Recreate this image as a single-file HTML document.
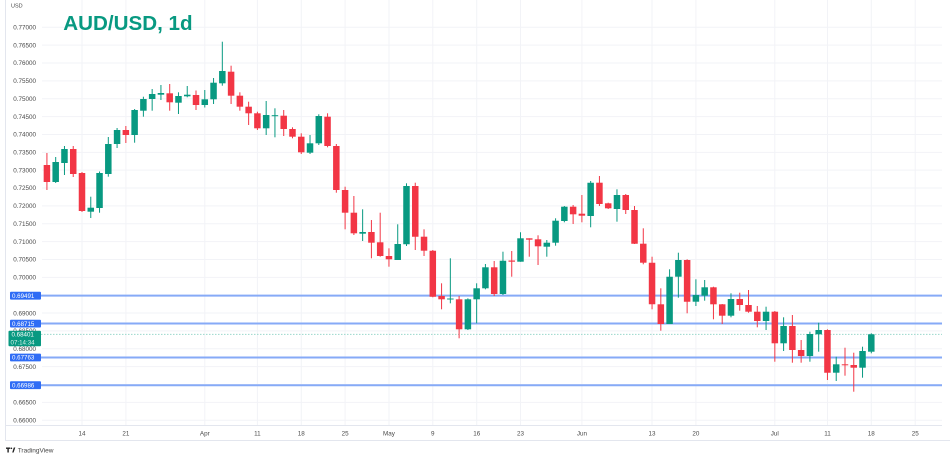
<!DOCTYPE html>
<html>
<head>
<meta charset="utf-8">
<style>
html,body{margin:0;padding:0;background:#fff;}
svg{display:block;}
.g{color:#089981;}
.r{color:#f23645;}
.b{fill:currentColor;stroke:none;}
.w{fill:none;stroke:currentColor;stroke-width:1;}
.pl{font-family:"Liberation Sans",sans-serif;font-size:6.3px;fill:#4a4a4a;}
.dl{font-family:"Liberation Sans",sans-serif;font-size:6.3px;fill:#4a4a4a;text-anchor:middle;}
.bl{font-family:"Liberation Sans",sans-serif;font-size:6.2px;fill:#fff;}
</style>
</head>
<body>
<svg width="950" height="459" viewBox="0 0 950 459" xmlns="http://www.w3.org/2000/svg">
<rect width="950" height="459" fill="#fff"/>
<!-- frame -->
<g stroke="#e3e6ee" stroke-width="1" fill="none">
<path d="M5.5 0V440.5H950"/>
<path d="M5.5 425.5H942"/>
</g>
<!-- horizontal grid -->
<g stroke="#f2f3f7" stroke-width="1">
<path d="M42 27.3H942M42 45.16H942M42 63.02H942M42 80.88H942M42 98.74H942M42 116.6H942M42 134.46H942M42 152.32H942M42 170.18H942M42 188.04H942M42 205.9H942M42 223.76H942M42 241.62H942M42 259.48H942M42 277.34H942M42 295.2H942M42 313.06H942M42 330.92H942M42 348.78H942M42 366.64H942M42 384.5H942M42 402.36H942M42 420.22H942"/>
</g>
<!-- vertical grid -->
<g stroke="#f2f3f7" stroke-width="1">
<path d="M82 0V425M125.9 0V425M204.8 0V425M257.4 0V425M301.3 0V425M345.1 0V425M389 0V425M432.8 0V425M476.7 0V425M520.5 0V425M581.9 0V425M652 0V425M695.9 0V425M774.8 0V425M827.5 0V425M871.3 0V425M915.2 0V425"/>
</g>
<!-- price labels -->
<text class="pl" x="11" y="7.3" style="font-size:5.5px">USD</text>
<g class="pl">
<text x="13.3" y="29.5">0.77000</text>
<text x="13.3" y="47.4">0.76500</text>
<text x="13.3" y="65.2">0.76000</text>
<text x="13.3" y="83.1">0.75500</text>
<text x="13.3" y="100.9">0.75000</text>
<text x="13.3" y="118.8">0.74500</text>
<text x="13.3" y="136.7">0.74000</text>
<text x="13.3" y="154.5">0.73500</text>
<text x="13.3" y="172.4">0.73000</text>
<text x="13.3" y="190.2">0.72500</text>
<text x="13.3" y="208.1">0.72000</text>
<text x="13.3" y="226">0.71500</text>
<text x="13.3" y="243.8">0.71000</text>
<text x="13.3" y="261.7">0.70500</text>
<text x="13.3" y="279.5">0.70000</text>
<text x="13.3" y="297.4">0.69500</text>
<text x="13.3" y="315.3">0.69000</text>
<text x="13.3" y="333.1">0.68500</text>
<text x="13.3" y="351">0.68000</text>
<text x="13.3" y="368.8">0.67500</text>
<text x="13.3" y="386.7">0.67000</text>
<text x="13.3" y="404.6">0.66500</text>
<text x="13.3" y="422.4">0.66000</text>
</g>
<!-- date labels -->
<g class="dl">
<text x="82" y="435.6">14</text>
<text x="125.9" y="435.6">21</text>
<text x="204.8" y="435.6">Apr</text>
<text x="257.4" y="435.6">11</text>
<text x="301.3" y="435.6">18</text>
<text x="345.1" y="435.6">25</text>
<text x="389" y="435.6">May</text>
<text x="432.8" y="435.6">9</text>
<text x="476.7" y="435.6">16</text>
<text x="520.5" y="435.6">23</text>
<text x="581.9" y="435.6">Jun</text>
<text x="652" y="435.6">13</text>
<text x="695.9" y="435.6">20</text>
<text x="774.8" y="435.6">Jul</text>
<text x="827.5" y="435.6">11</text>
<text x="871.3" y="435.6">18</text>
<text x="915.2" y="435.6">25</text>
</g>
<!-- horizontal lines -->
<g stroke="#86aaf7" stroke-width="2">
<path d="M41 295.6H942"/>
<path d="M41 323.5H942"/>
<path d="M41 357.5H942"/>
<path d="M41 385.2H942"/>
</g>
<path d="M41 334.4H942" stroke="#9ad8cc" stroke-width="1" stroke-dasharray="1.5 1.5"/>
<!-- candles -->
<g class="r" transform="translate(46.92)"><path class="w" d="M0 153V190"/><path class="b" d="M-3.25 165h6.5V182h-6.5Z"/></g>
<g class="g" transform="translate(55.69)"><path class="w" d="M0 157V183"/><path class="b" d="M-3.25 162h6.5V182h-6.5Z"/></g>
<g class="g" transform="translate(64.46)"><path class="w" d="M0 146V175"/><path class="b" d="M-3.25 149h6.5V163h-6.5Z"/></g>
<g class="r" transform="translate(73.23)"><path class="w" d="M0 146V177"/><path class="b" d="M-3.25 149h6.5V174h-6.5Z"/></g>
<g class="r" transform="translate(82)"><path class="w" d="M0 172V212"/><path class="b" d="M-3.25 173h6.5V211h-6.5Z"/></g>
<g class="g" transform="translate(90.77)"><path class="w" d="M0 196.7V218"/><path class="b" d="M-3.25 207.7h6.5V211.7h-6.5Z"/></g>
<g class="g" transform="translate(99.54)"><path class="w" d="M0 171.5V212.7"/><path class="b" d="M-3.25 173h6.5V208h-6.5Z"/></g>
<g class="g" transform="translate(108.31)"><path class="w" d="M0 137V176.7"/><path class="b" d="M-3.25 144h6.5V174h-6.5Z"/></g>
<g class="g" transform="translate(117.08)"><path class="w" d="M0 128V148"/><path class="b" d="M-3.25 130h6.5V144h-6.5Z"/></g>
<g class="r" transform="translate(125.85)"><path class="w" d="M0 126V143"/><path class="b" d="M-3.25 130h6.5V135h-6.5Z"/></g>
<g class="g" transform="translate(134.62)"><path class="w" d="M0 109V142.7"/><path class="b" d="M-3.25 110h6.5V135h-6.5Z"/></g>
<g class="g" transform="translate(143.39)"><path class="w" d="M0 96.7V116.7"/><path class="b" d="M-3.25 99h6.5V110.7h-6.5Z"/></g>
<g class="g" transform="translate(152.16)"><path class="w" d="M0 89V110.7"/><path class="b" d="M-3.25 94h6.5V99h-6.5Z"/></g>
<g class="g" transform="translate(160.93)"><path class="w" d="M0 85V100"/><path class="b" d="M-3.25 93h6.5V94.7h-6.5Z"/></g>
<g class="r" transform="translate(169.7)"><path class="w" d="M0 84V110.7"/><path class="b" d="M-3.25 93.3h6.5V102.3h-6.5Z"/></g>
<g class="g" transform="translate(178.47)"><path class="w" d="M0 92.3V114"/><path class="b" d="M-3.25 96h6.5V102.7h-6.5Z"/></g>
<g class="g" transform="translate(187.24)"><path class="w" d="M0 86V97.3"/><path class="b" d="M-3.25 94.7h6.5V96.3h-6.5Z"/></g>
<g class="r" transform="translate(196.01)"><path class="w" d="M0 90.5V110"/><path class="b" d="M-3.25 95h6.5V105h-6.5Z"/></g>
<g class="g" transform="translate(204.78)"><path class="w" d="M0 90V107.5"/><path class="b" d="M-3.25 99.3h6.5V105h-6.5Z"/></g>
<g class="g" transform="translate(213.55)"><path class="w" d="M0 78V104"/><path class="b" d="M-3.25 82.7h6.5V99.3h-6.5Z"/></g>
<g class="g" transform="translate(222.32)"><path class="w" d="M0 41.7V85.7"/><path class="b" d="M-3.25 71h6.5V83.3h-6.5Z"/></g>
<g class="r" transform="translate(231.09)"><path class="w" d="M0 65.7V104"/><path class="b" d="M-3.25 71.7h6.5V95.7h-6.5Z"/></g>
<g class="r" transform="translate(239.86)"><path class="w" d="M0 92.3V110.7"/><path class="b" d="M-3.25 95.7h6.5V106.7h-6.5Z"/></g>
<g class="r" transform="translate(248.63)"><path class="w" d="M0 101.7V125"/><path class="b" d="M-3.25 106.7h6.5V113.3h-6.5Z"/></g>
<g class="r" transform="translate(257.4)"><path class="w" d="M0 111.7V130"/><path class="b" d="M-3.25 113.3h6.5V128.3h-6.5Z"/></g>
<g class="g" transform="translate(266.17)"><path class="w" d="M0 101V135"/><path class="b" d="M-3.25 115h6.5V128.3h-6.5Z"/></g>
<g class="g" transform="translate(274.94)"><path class="w" d="M0 108.3V137.3"/><path class="b" d="M-3.25 115.2h6.5V116.2h-6.5Z"/></g>
<g class="r" transform="translate(283.71)"><path class="w" d="M0 110V136"/><path class="b" d="M-3.25 115.7h6.5V129h-6.5Z"/></g>
<g class="r" transform="translate(292.48)"><path class="w" d="M0 127.3V138.3"/><path class="b" d="M-3.25 129h6.5V136.7h-6.5Z"/></g>
<g class="r" transform="translate(301.25)"><path class="w" d="M0 133.3V154"/><path class="b" d="M-3.25 136.7h6.5V152.3h-6.5Z"/></g>
<g class="g" transform="translate(310.02)"><path class="w" d="M0 135V154"/><path class="b" d="M-3.25 143.3h6.5V152.7h-6.5Z"/></g>
<g class="g" transform="translate(318.79)"><path class="w" d="M0 114.3V145"/><path class="b" d="M-3.25 116h6.5V143.3h-6.5Z"/></g>
<g class="r" transform="translate(327.56)"><path class="w" d="M0 113.3V147.3"/><path class="b" d="M-3.25 116.7h6.5V146h-6.5Z"/></g>
<g class="r" transform="translate(336.33)"><path class="w" d="M0 144V192.7"/><path class="b" d="M-3.25 146h6.5V190h-6.5Z"/></g>
<g class="r" transform="translate(345.1)"><path class="w" d="M0 186.7V229.3"/><path class="b" d="M-3.25 190h6.5V212.7h-6.5Z"/></g>
<g class="r" transform="translate(353.87)"><path class="w" d="M0 196V235"/><path class="b" d="M-3.25 212.7h6.5V233.3h-6.5Z"/></g>
<g class="g" transform="translate(362.64)"><path class="w" d="M0 209.3V241"/><path class="b" d="M-3.25 232h6.5V233.7h-6.5Z"/></g>
<g class="r" transform="translate(371.41)"><path class="w" d="M0 220V258.3"/><path class="b" d="M-3.25 232h6.5V242.7h-6.5Z"/></g>
<g class="r" transform="translate(380.18)"><path class="w" d="M0 212.7V256.7"/><path class="b" d="M-3.25 242.3h6.5V256h-6.5Z"/></g>
<g class="r" transform="translate(388.95)"><path class="w" d="M0 248.3V266.7"/><path class="b" d="M-3.25 256h6.5V259.3h-6.5Z"/></g>
<g class="g" transform="translate(397.72)"><path class="w" d="M0 224.3V260"/><path class="b" d="M-3.25 244h6.5V260h-6.5Z"/></g>
<g class="g" transform="translate(406.49)"><path class="w" d="M0 183.3V246"/><path class="b" d="M-3.25 186h6.5V244.3h-6.5Z"/></g>
<g class="r" transform="translate(415.26)"><path class="w" d="M0 182.7V250"/><path class="b" d="M-3.25 186h6.5V236.7h-6.5Z"/></g>
<g class="r" transform="translate(424.03)"><path class="w" d="M0 229.3V256"/><path class="b" d="M-3.25 236.7h6.5V250.7h-6.5Z"/></g>
<g class="r" transform="translate(432.8)"><path class="w" d="M0 250V297.3"/><path class="b" d="M-3.25 250.7h6.5V296.7h-6.5Z"/></g>
<g class="r" transform="translate(441.57)"><path class="w" d="M0 283.3V309.3"/><path class="b" d="M-3.25 296h6.5V299.3h-6.5Z"/></g>
<g class="g" transform="translate(450.34)"><path class="w" d="M0 258.3V303.3"/><path class="b" d="M-3.25 298.5h6.5V299.5h-6.5Z"/></g>
<g class="r" transform="translate(459.11)"><path class="w" d="M0 296V338.3"/><path class="b" d="M-3.25 299.3h6.5V329.3h-6.5Z"/></g>
<g class="g" transform="translate(467.88)"><path class="w" d="M0 298.3V330"/><path class="b" d="M-3.25 299.3h6.5V329.3h-6.5Z"/></g>
<g class="g" transform="translate(476.65)"><path class="w" d="M0 283.3V323.3"/><path class="b" d="M-3.25 288.3h6.5V299.3h-6.5Z"/></g>
<g class="g" transform="translate(485.42)"><path class="w" d="M0 264V289.3"/><path class="b" d="M-3.25 267.3h6.5V288.3h-6.5Z"/></g>
<g class="r" transform="translate(494.19)"><path class="w" d="M0 261V296"/><path class="b" d="M-3.25 267.3h6.5V294h-6.5Z"/></g>
<g class="g" transform="translate(502.96)"><path class="w" d="M0 251.7V295"/><path class="b" d="M-3.25 260.7h6.5V294h-6.5Z"/></g>
<g class="r" transform="translate(511.73)"><path class="w" d="M0 251V276.7"/><path class="b" d="M-3.25 260.5h6.5V261.7h-6.5Z"/></g>
<g class="g" transform="translate(520.5)"><path class="w" d="M0 232.3V261.7"/><path class="b" d="M-3.25 238.3h6.5V261.7h-6.5Z"/></g>
<g class="r" transform="translate(529.27)"><path class="w" d="M0 238.3V256.7"/><path class="b" d="M-3.25 238.3h6.5V239.7h-6.5Z"/></g>
<g class="r" transform="translate(538.04)"><path class="w" d="M0 235.3V265"/><path class="b" d="M-3.25 239.3h6.5V246.3h-6.5Z"/></g>
<g class="g" transform="translate(546.81)"><path class="w" d="M0 240V256.7"/><path class="b" d="M-3.25 242.7h6.5V246.7h-6.5Z"/></g>
<g class="g" transform="translate(555.58)"><path class="w" d="M0 218.3V245.7"/><path class="b" d="M-3.25 220.7h6.5V242.7h-6.5Z"/></g>
<g class="g" transform="translate(564.35)"><path class="w" d="M0 206V222.3"/><path class="b" d="M-3.25 206.7h6.5V221h-6.5Z"/></g>
<g class="r" transform="translate(573.12)"><path class="w" d="M0 205V224"/><path class="b" d="M-3.25 206.7h6.5V214.3h-6.5Z"/></g>
<g class="r" transform="translate(581.89)"><path class="w" d="M0 195V222.3"/><path class="b" d="M-3.25 213.7h6.5V215.7h-6.5Z"/></g>
<g class="g" transform="translate(590.66)"><path class="w" d="M0 181V227.3"/><path class="b" d="M-3.25 182.7h6.5V216h-6.5Z"/></g>
<g class="r" transform="translate(599.43)"><path class="w" d="M0 176V206"/><path class="b" d="M-3.25 182.7h6.5V204h-6.5Z"/></g>
<g class="r" transform="translate(608.2)"><path class="w" d="M0 202.7V209"/><path class="b" d="M-3.25 203.3h6.5V208.3h-6.5Z"/></g>
<g class="g" transform="translate(616.97)"><path class="w" d="M0 189.3V221.7"/><path class="b" d="M-3.25 195h6.5V209h-6.5Z"/></g>
<g class="r" transform="translate(625.74)"><path class="w" d="M0 194V214"/><path class="b" d="M-3.25 195h6.5V210h-6.5Z"/></g>
<g class="r" transform="translate(634.51)"><path class="w" d="M0 206V244"/><path class="b" d="M-3.25 210h6.5V243.7h-6.5Z"/></g>
<g class="r" transform="translate(643.28)"><path class="w" d="M0 228.3V264.3"/><path class="b" d="M-3.25 243.7h6.5V262.7h-6.5Z"/></g>
<g class="r" transform="translate(652.05)"><path class="w" d="M0 256.7V309.3"/><path class="b" d="M-3.25 262.7h6.5V304.3h-6.5Z"/></g>
<g class="r" transform="translate(660.82)"><path class="w" d="M0 288.3V330.7"/><path class="b" d="M-3.25 304.3h6.5V324h-6.5Z"/></g>
<g class="g" transform="translate(669.59)"><path class="w" d="M0 269.3V324"/><path class="b" d="M-3.25 276.7h6.5V324h-6.5Z"/></g>
<g class="g" transform="translate(678.36)"><path class="w" d="M0 252.7V297.7"/><path class="b" d="M-3.25 260h6.5V276.7h-6.5Z"/></g>
<g class="r" transform="translate(687.13)"><path class="w" d="M0 259.3V313.3"/><path class="b" d="M-3.25 260h6.5V301.7h-6.5Z"/></g>
<g class="g" transform="translate(695.9)"><path class="w" d="M0 279.3V306"/><path class="b" d="M-3.25 295h6.5V301.7h-6.5Z"/></g>
<g class="g" transform="translate(704.67)"><path class="w" d="M0 280V300.7"/><path class="b" d="M-3.25 287.3h6.5V295.7h-6.5Z"/></g>
<g class="r" transform="translate(713.44)"><path class="w" d="M0 286.7V319.3"/><path class="b" d="M-3.25 287.3h6.5V304.3h-6.5Z"/></g>
<g class="r" transform="translate(722.21)"><path class="w" d="M0 304V324"/><path class="b" d="M-3.25 304.3h6.5V315.7h-6.5Z"/></g>
<g class="g" transform="translate(730.98)"><path class="w" d="M0 293.3V317.3"/><path class="b" d="M-3.25 299h6.5V315.7h-6.5Z"/></g>
<g class="r" transform="translate(739.75)"><path class="w" d="M0 292.7V310.7"/><path class="b" d="M-3.25 299h6.5V305h-6.5Z"/></g>
<g class="r" transform="translate(748.52)"><path class="w" d="M0 290V312.7"/><path class="b" d="M-3.25 305h6.5V311.7h-6.5Z"/></g>
<g class="r" transform="translate(757.29)"><path class="w" d="M0 306V327.3"/><path class="b" d="M-3.25 311.7h6.5V321h-6.5Z"/></g>
<g class="g" transform="translate(766.06)"><path class="w" d="M0 306.7V330"/><path class="b" d="M-3.25 311.7h6.5V321h-6.5Z"/></g>
<g class="r" transform="translate(774.83)"><path class="w" d="M0 311V361.7"/><path class="b" d="M-3.25 311.7h6.5V343.3h-6.5Z"/></g>
<g class="g" transform="translate(783.6)"><path class="w" d="M0 317.3V351"/><path class="b" d="M-3.25 326h6.5V343.3h-6.5Z"/></g>
<g class="r" transform="translate(792.37)"><path class="w" d="M0 315V362.7"/><path class="b" d="M-3.25 326h6.5V350h-6.5Z"/></g>
<g class="r" transform="translate(801.14)"><path class="w" d="M0 340V362.7"/><path class="b" d="M-3.25 350h6.5V356h-6.5Z"/></g>
<g class="g" transform="translate(809.91)"><path class="w" d="M0 331.7V361.7"/><path class="b" d="M-3.25 334h6.5V356h-6.5Z"/></g>
<g class="g" transform="translate(818.68)"><path class="w" d="M0 322.7V351.7"/><path class="b" d="M-3.25 330h6.5V334.3h-6.5Z"/></g>
<g class="r" transform="translate(827.45)"><path class="w" d="M0 329.3V380"/><path class="b" d="M-3.25 330h6.5V372.7h-6.5Z"/></g>
<g class="g" transform="translate(836.22)"><path class="w" d="M0 356.7V381"/><path class="b" d="M-3.25 364.3h6.5V372.7h-6.5Z"/></g>
<g class="r" transform="translate(844.99)"><path class="w" d="M0 347.7V375.7"/><path class="b" d="M-3.25 364.3h6.5V365.3h-6.5Z"/></g>
<g class="r" transform="translate(853.76)"><path class="w" d="M0 352.7V391.7"/><path class="b" d="M-3.25 365h6.5V367.7h-6.5Z"/></g>
<g class="g" transform="translate(862.53)"><path class="w" d="M0 346.7V377.7"/><path class="b" d="M-3.25 351h6.5V367.7h-6.5Z"/></g>
<g class="g" transform="translate(871.3)"><path class="w" d="M0 333.3V353.3"/><path class="b" d="M-3.25 334.3h6.5V351.7h-6.5Z"/></g>
<!-- line labels -->
<rect x="10" y="291.8" width="31" height="7.8" rx="1" fill="#2f6cf5"/>
<text class="bl" x="12" y="297.9">0.69491</text>
<rect x="10" y="319.7" width="31" height="7.8" rx="1" fill="#2f6cf5"/>
<text class="bl" x="12" y="325.8">0.68715</text>
<rect x="8.5" y="330.7" width="32.5" height="15.6" rx="1" fill="#089981"/>
<text class="bl" x="11.5" y="336.7">0.68401</text>
<text class="bl" x="10.5" y="344.4" style="fill:#d9f2ec">07:14:34</text>
<rect x="10" y="353.6" width="31" height="7.8" rx="1" fill="#2f6cf5"/>
<text class="bl" x="12" y="359.7">0.67763</text>
<rect x="10" y="381.3" width="31" height="7.8" rx="1" fill="#2f6cf5"/>
<text class="bl" x="12" y="387.4">0.66986</text>
<!-- title -->
<text x="63.3" y="30" font-family="Liberation Sans, sans-serif" font-weight="bold" font-size="20.6" fill="#089981">AUD/USD, 1d</text>
<!-- TradingView logo -->
<g fill="#222">
<path d="M6 447.5h4.2v1.4h-1.4v3.6h-1.4v-3.6h-1.4Z"/>
<circle cx="11.4" cy="448.3" r="0.8"/>
<path d="M12.2 452.5l1.6-5h1.5l-1.7 5Z"/>
</g>
<text x="17.7" y="452.3" font-family="Liberation Sans, sans-serif" font-size="6.5" fill="#444">TradingView</text>
</svg>
</body>
</html>
